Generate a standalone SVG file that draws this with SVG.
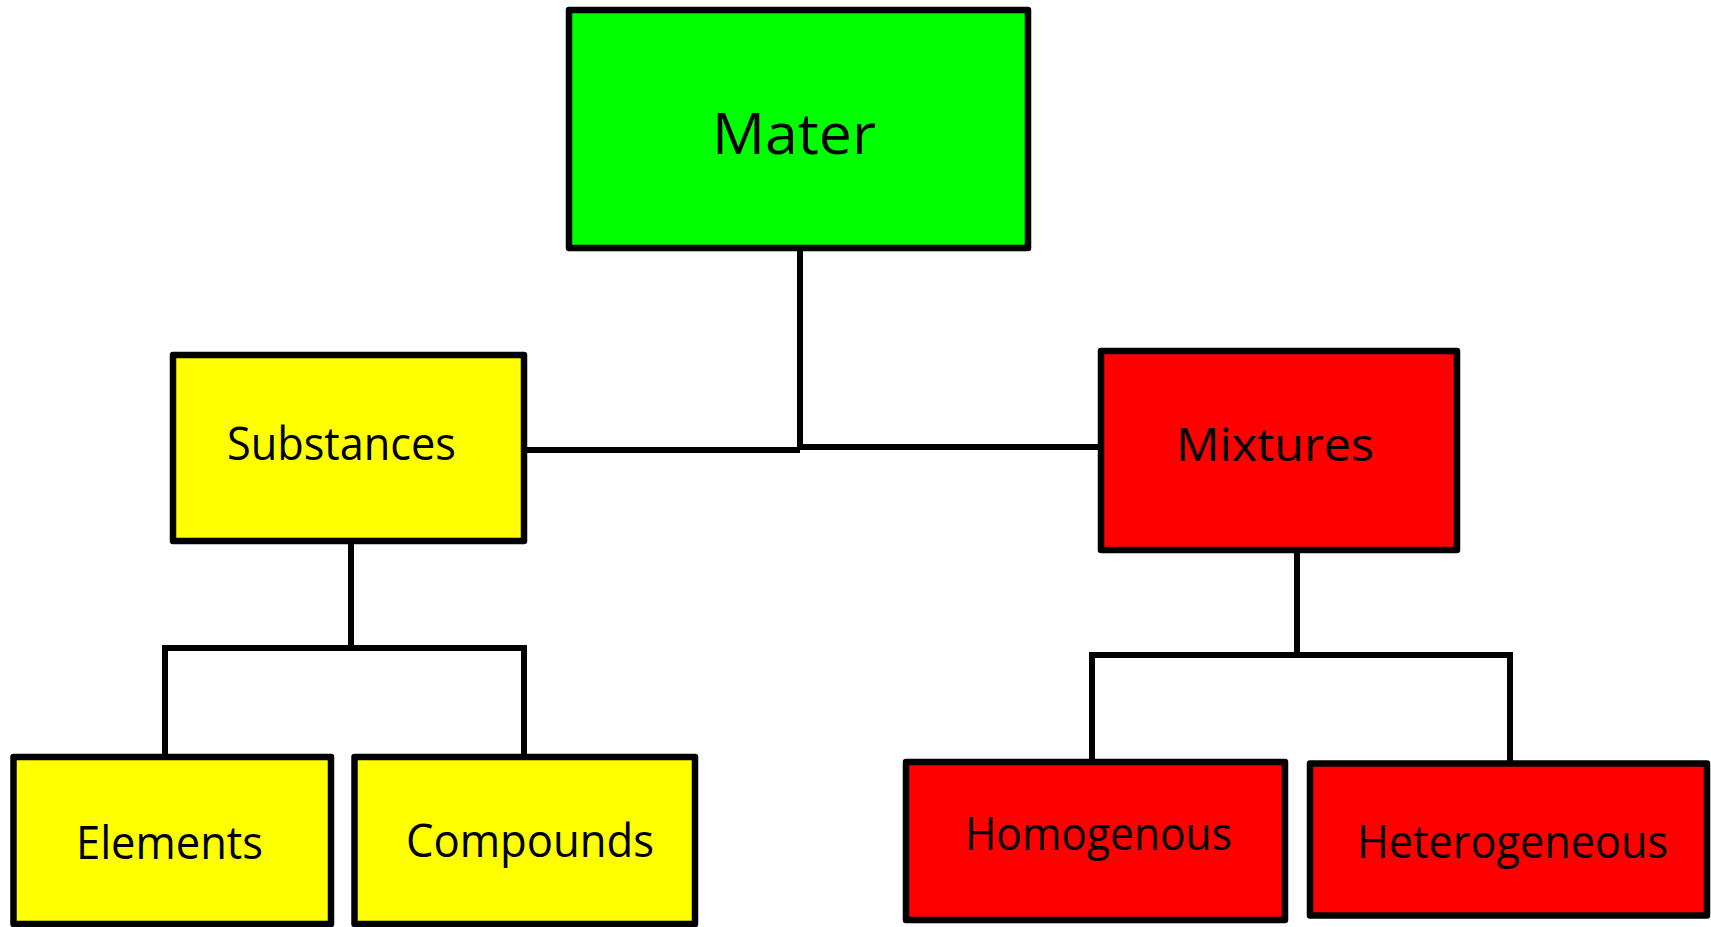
<svg xmlns="http://www.w3.org/2000/svg" width="1711" height="927" viewBox="0 0 1711 927">
<style>
.box{stroke:#000;stroke-width:6.5;stroke-linejoin:round}
.g{fill:#00FF00}.y{fill:#FFFF00}.r{fill:#FF0000}
.lbl{font-family:"Open Sans","Noto Sans","Liberation Sans",sans-serif;fill:#000}
.sm{font-size:45px}.lg{font-size:57px}
.conn{stroke:#000;stroke-width:6;fill:none;stroke-linejoin:miter}
</style>
<rect width="1711" height="927" fill="#fff"/>
<g id="connectors">
<path class="conn" d="M800,248 V450 M524,450 H800 M800,447 H1101"/>
<path class="conn" d="M351,541 V648 M165,757 V648 H524 V757"/>
<path class="conn" d="M1297,550 V655 M1092,762 V655 H1510 V763"/>
</g>
<g id="mater">
<rect class="box g" x="569" y="10" width="459" height="238"/>
<text class="lbl lg" x="712" y="154" textLength="164" lengthAdjust="spacingAndGlyphs">Mater</text>
</g>
<g id="substances">
<rect class="box y" x="173" y="355" width="351" height="186"/>
<text class="lbl sm" x="227" y="460" textLength="229" lengthAdjust="spacingAndGlyphs">Substances</text>
</g>
<g id="mixtures">
<rect class="box r" x="1101" y="351" width="356" height="199"/>
<text class="lbl sm" x="1176" y="461" textLength="198" lengthAdjust="spacingAndGlyphs">Mixtures</text>
</g>
<g id="elements">
<rect class="box y" x="13.5" y="757" width="317.5" height="167"/>
<text class="lbl sm" x="76" y="859" textLength="187" lengthAdjust="spacingAndGlyphs">Elements</text>
</g>
<g id="compounds">
<rect class="box y" x="354.5" y="757" width="340.5" height="167"/>
<text class="lbl sm" x="406" y="857" textLength="248" lengthAdjust="spacingAndGlyphs">Compounds</text>
</g>
<g id="homogenous">
<rect class="box r" x="906" y="762" width="379" height="158"/>
<text class="lbl sm" x="965" y="850" textLength="267" lengthAdjust="spacingAndGlyphs">Homogenous</text>
</g>
<g id="heterogeneous">
<rect class="box r" x="1310" y="763.5" width="397" height="152"/>
<text class="lbl sm" x="1357" y="858" textLength="311" lengthAdjust="spacingAndGlyphs">Heterogeneous</text>
</g>
</svg>
